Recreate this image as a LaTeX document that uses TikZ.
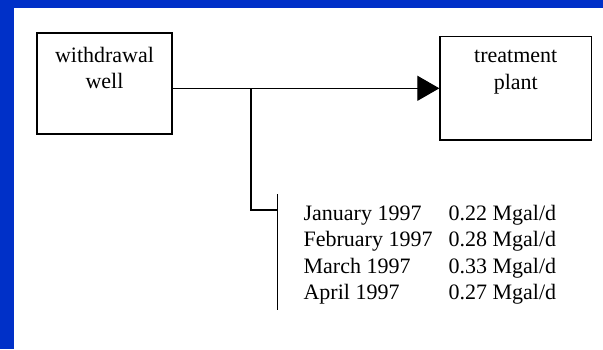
\documentclass[tikz,border=0pt]{standalone}
\usepackage{fontspec}
\setmainfont{Liberation Serif}
\usetikzlibrary{arrows.meta}
\definecolor{slideblue}{RGB}{0,48,200}

\begin{document}
\begin{tikzpicture}[x=1pt, y=-1pt, line width=1.2pt,
    every node/.style={font=\fontsize{22}{26.5}\selectfont},
    unitbox/.style={draw, line width=1.3pt, inner sep=0pt},
    boxlabel/.style={align=center, inner sep=0pt, anchor=north}]
    \useasboundingbox (0,0) rectangle (603,349);

    % Slide frame
    \fill[slideblue] (0,0) rectangle (603,8);
    \fill[slideblue] (0,0) rectangle (14,349);

    % Units
    \node[unitbox, minimum width=135pt, minimum height=101pt] (well) at (104.5,83.5) {};
    \node[unitbox, minimum width=151.5pt, minimum height=103.3pt] (plant) at (515.75,88.3) {};
    \node[boxlabel] (wellText) at ([yshift=-14pt]well.north) {withdrawal\\well};
    \node[boxlabel] (plantText) at ([yshift=-14pt]plant.north) {treatment\\plant};

    % Main flow
    \draw[-{Triangle[length=22pt, width=25pt]}] (well.east |- plant.west) -- (plant.west);

    % Branch to the monthly rates
    \coordinate (tap) at (251,88);
    \coordinate (barTop) at (277.5,194);
    \coordinate (barBot) at (277.5,310);
    \coordinate (elbow) at (277.5,210);
    \draw (tap) |- (elbow);
    \draw (barTop) -- (barBot);

    % Monthly rates
    \node[anchor=base west, inner sep=0pt] (rates) at (303,220) {%
      \begin{tabular}[t]{@{}p{145pt}@{}l@{}}
        January 1997  & 0.22 Mgal/d\\
        February 1997 & 0.28 Mgal/d\\
        March 1997    & 0.33 Mgal/d\\
        April 1997    & 0.27 Mgal/d
      \end{tabular}};
\end{tikzpicture}
\end{document}
